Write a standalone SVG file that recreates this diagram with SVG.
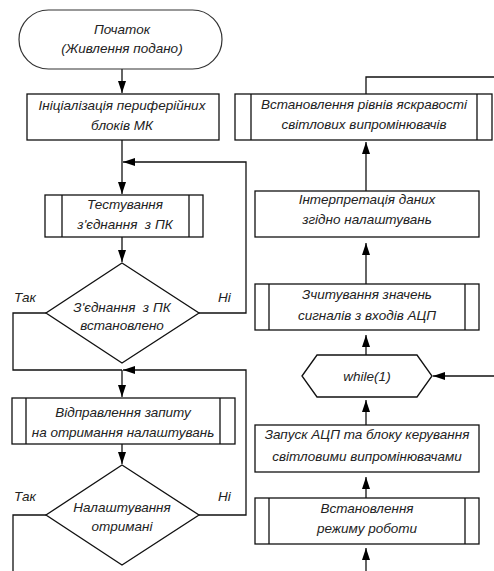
<svg xmlns="http://www.w3.org/2000/svg" width="494" height="571" viewBox="0 0 494 571">
<defs>
<marker id="arr" markerUnits="userSpaceOnUse" markerWidth="13" markerHeight="9" refX="12" refY="4.5" orient="auto">
<path d="M0,0.5 L12,4.5 L0,8.5 z" fill="#000"/>
</marker>
<style>
.b{fill:#fff;stroke:#111;stroke-width:1.3}
.t{fill:#fff;stroke:#333;stroke-width:1.2}
.c{fill:none;stroke:#111;stroke-width:1.3}
text{font-family:"Liberation Sans",Arial,sans-serif;font-style:italic;font-size:13.5px;fill:#222;text-anchor:middle;white-space:pre}
.l{text-anchor:start}
</style>
</defs>
<rect width="494" height="571" fill="#fff"/>
<g id="connectors">
<path class="c" d="M122,69 V93" marker-end="url(#arr)"/>
<path class="c" d="M122,140 V194" marker-end="url(#arr)"/>
<path class="c" d="M199,313 H246 V162 H123" marker-end="url(#arr)"/>
<path class="c" d="M122,237 V262" marker-end="url(#arr)"/>
<path class="c" d="M46,313 H13 V370 H122"/>
<path class="c" d="M199,515 H246 V370 H123" marker-end="url(#arr)"/>
<path class="c" d="M122,370 V397" marker-end="url(#arr)"/>
<path class="c" d="M122,444 V464" marker-end="url(#arr)"/>
<path class="c" d="M46,515 H13 V571"/>
<path class="c" d="M366,94 V77 H494"/>
<path class="c" d="M366,191 V142" marker-end="url(#arr)"/>
<path class="c" d="M366,284 V243" marker-end="url(#arr)"/>
<path class="c" d="M366,355 V335" marker-end="url(#arr)"/>
<path class="c" d="M366,425 V400" marker-end="url(#arr)"/>
<path class="c" d="M366,498 V477" marker-end="url(#arr)"/>
<path class="c" d="M366,571 V548" marker-end="url(#arr)"/>
<path class="c" d="M494,376 H433" marker-end="url(#arr)"/>
<text class="l" x="14" y="302">Так</text>
<text class="l" x="218" y="302">Ні</text>
<text class="l" x="14" y="501">Так</text>
<text class="l" x="218" y="501">Ні</text>
</g>
<g id="start">
<rect class="t" x="19" y="10" width="203" height="59" rx="29.5"/>
<text x="122" y="34">Початок</text>
<text x="122" y="53">(Живлення подано)</text>
</g>
<g id="init">
<rect class="b" x="27" y="94" width="192" height="46"/>
<text x="122" y="110">Ініціалізація периферійних</text>
<text x="122" y="130">блоків МК</text>
</g>
<g id="test">
<rect class="b" x="45" y="195" width="158" height="42"/>
<path class="c" d="M62,195 V237 M189,195 V237"/>
<text x="125" y="209">Тестування</text>
<text x="125" y="229">з'єднання  з ПК</text>
</g>
<g id="dec1">
<polygon class="b" points="122,263 199,313 122,363 46,313"/>
<text x="122" y="312">З'єднання  з ПК</text>
<text x="122" y="330">встановлено</text>
</g>
<g id="request">
<rect class="b" x="12" y="398" width="223" height="46"/>
<path class="c" d="M26,398 V444 M220,398 V444"/>
<text x="123" y="417">Відправлення запиту</text>
<text x="123" y="437">на отримання налаштувань</text>
</g>
<g id="dec2">
<polygon class="b" points="122,465 199,515 122,565 46,515"/>
<text x="122" y="512">Налаштування</text>
<text x="122" y="531">отримані</text>
</g>
<g id="brightness">
<rect class="b" x="235" y="94" width="257" height="46"/>
<path class="c" d="M251,94 V140 M477,94 V140"/>
<text x="364" y="109">Встановлення рівнів яскравості</text>
<text x="364" y="129">світлових випромінювачів</text>
</g>
<g id="interp">
<rect class="b" x="255" y="191" width="224" height="46"/>
<text x="367" y="204">Інтерпретація даних</text>
<text x="367" y="224">згідно налаштувань</text>
</g>
<g id="read">
<rect class="b" x="255" y="284" width="224" height="46"/>
<path class="c" d="M269,284 V330 M465,284 V330"/>
<text x="367" y="299">Зчитування значень</text>
<text x="367" y="320">сигналів з входів АЦП</text>
</g>
<g id="loop">
<polygon class="b" points="302,376 317,355 417,355 432,376 417,397 317,397"/>
<text x="367" y="381">while(1)</text>
</g>
<g id="launch">
<rect class="b" x="255" y="425" width="224" height="47"/>
<text x="367" y="439">Запуск АЦП та блоку керування</text>
<text x="367" y="461">світловими випромінювачами</text>
</g>
<g id="mode">
<rect class="b" x="255" y="498" width="224" height="46"/>
<path class="c" d="M269,498 V544 M465,498 V544"/>
<text x="367" y="513">Встановлення</text>
<text x="367" y="533">режиму роботи</text>
</g>
</svg>
